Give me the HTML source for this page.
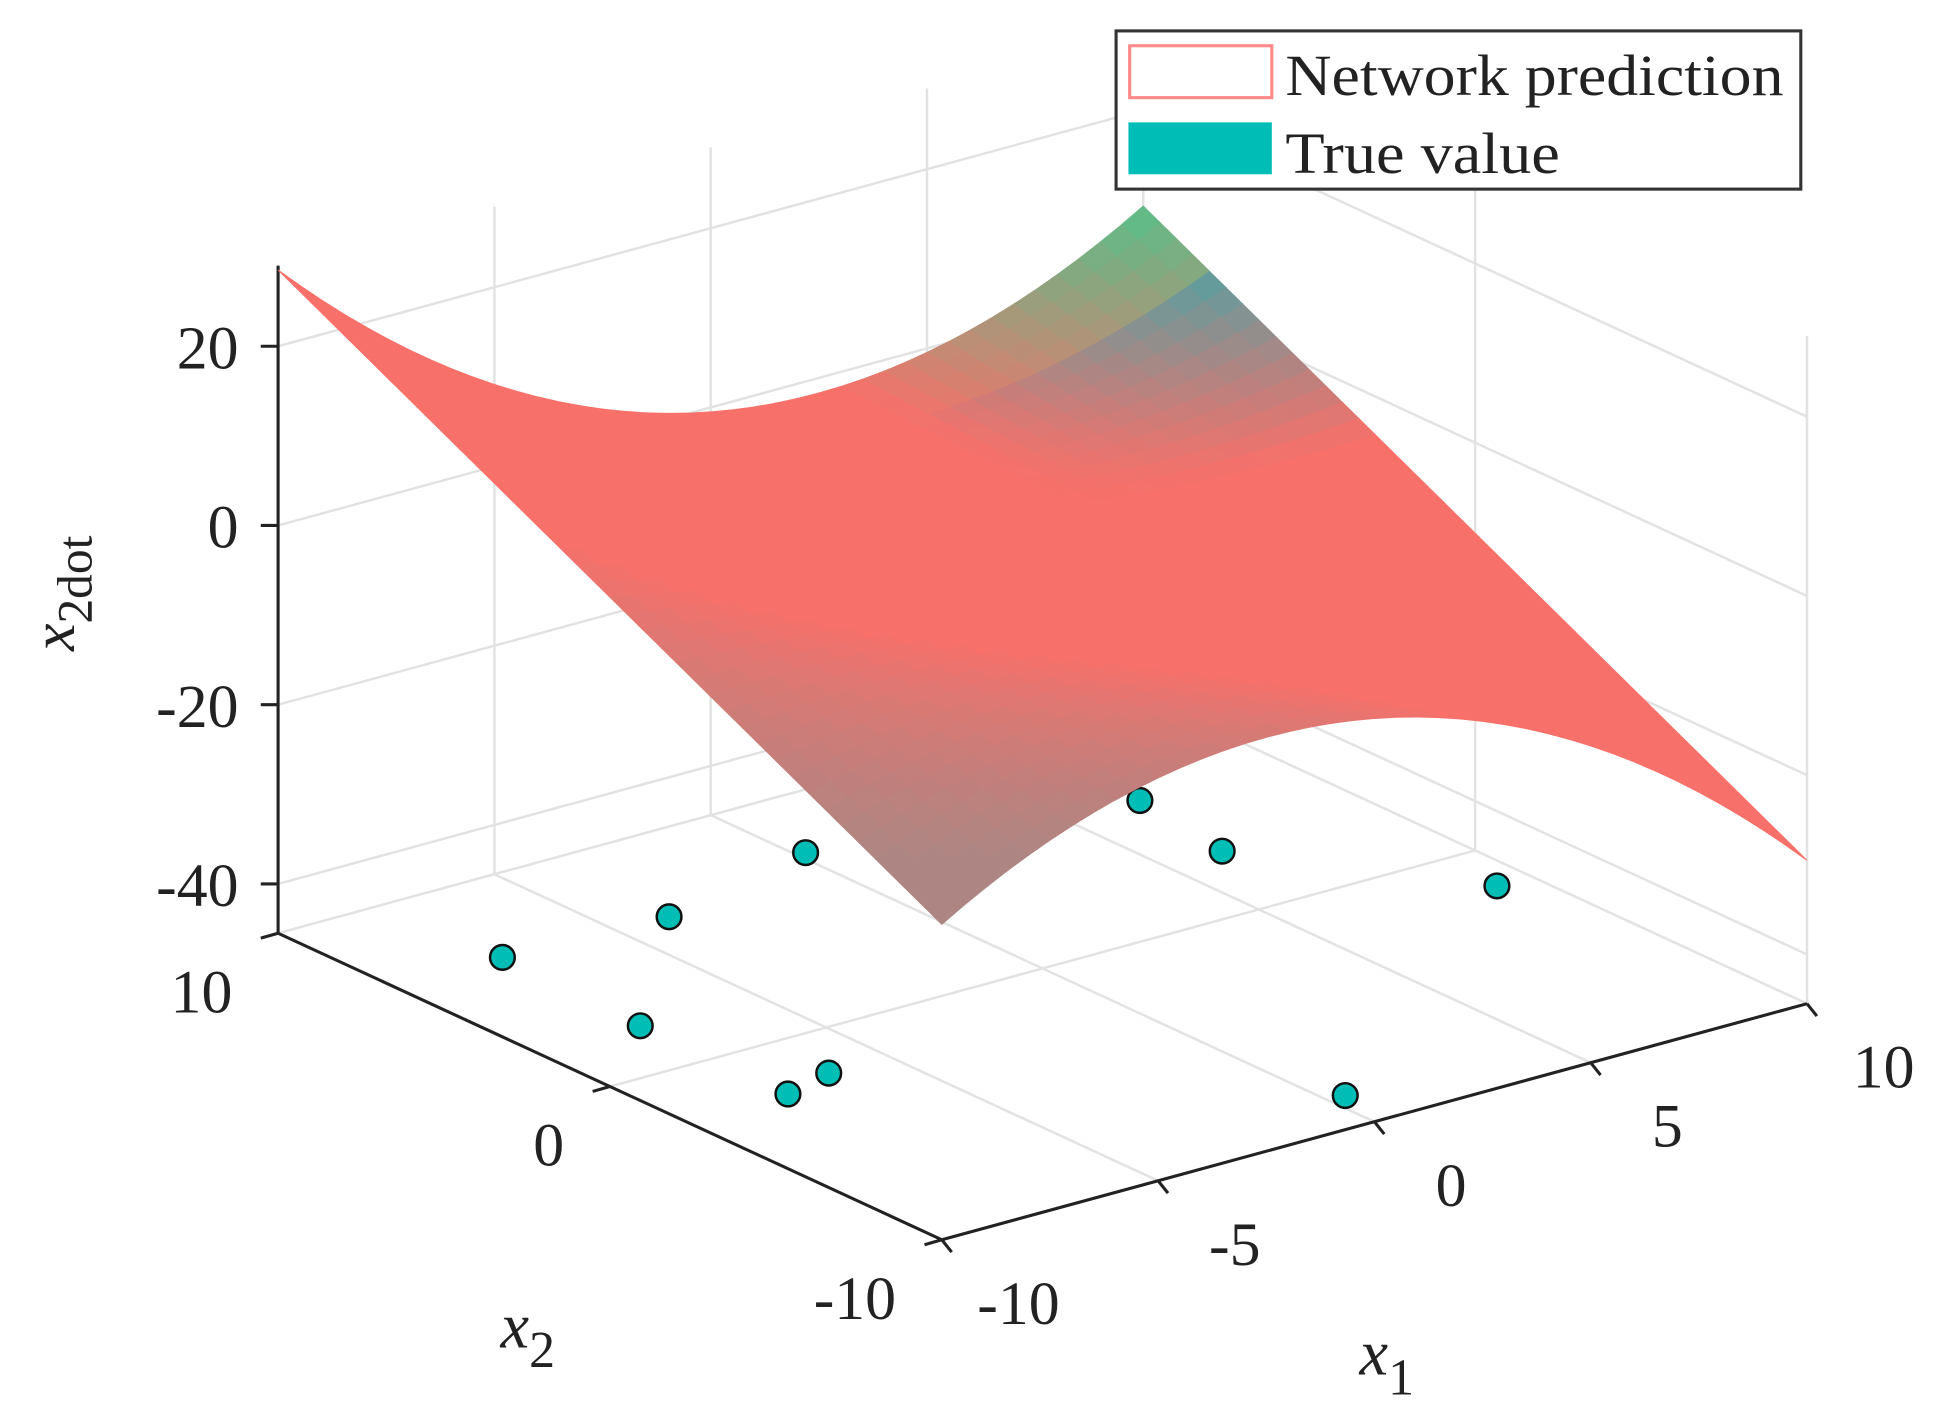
<!DOCTYPE html>
<html><head><meta charset="utf-8"><style>
html,body{margin:0;padding:0;background:#fff;}
svg{display:block;}
text{font-family:"Liberation Serif",serif;fill:#222;}
</style></head><body>
<svg id="chart" width="1938" height="1419" viewBox="0 0 1568 1148" preserveAspectRatio="none" xmlns="http://www.w3.org/2000/svg">
<g id="grid"></g>
<g id="axes"></g>
<g id="points"></g>
<g id="surf"></g>
<g id="labels">
<text x="60" y="480" font-size="50" font-style="italic" transform="rotate(-90 60 480)" text-anchor="middle">x<tspan font-style="normal" font-size="40" dy="14">2dot</tspan></text>
<text x="405" y="1090" font-size="52" font-style="italic">x<tspan font-style="normal" font-size="42" dy="16">2</tspan></text>
<text x="1100" y="1112" font-size="52" font-style="italic">x<tspan font-style="normal" font-size="42" dy="16">1</tspan></text>
</g>
<g>
<rect x="903" y="25" width="554" height="128" fill="#fff" stroke="#333" stroke-width="2.5"/>
<rect x="914" y="37" width="115" height="42" fill="#fff" stroke="#f88" stroke-width="2.5"/>
<text x="1040" y="77" font-size="47" textLength="403" lengthAdjust="spacingAndGlyphs">Network prediction</text>
<rect x="913" y="99" width="116" height="42" fill="#00bdb5"/>
<text x="1040" y="140" font-size="47" textLength="222" lengthAdjust="spacingAndGlyphs">True value</text>
</g>
</svg>
<script>
// data
const zTicks=[20,0,-20,-40];
const x1Ticks=[-10,-5,0,5,10];
const x2Ticks=[-10,0,10];
const coefConst=[-0.5];
const coefX1=[-0.96];
const coefX1sqX2=[0.0194];
const ptsX1=[-7.5,-7.65,-3.8,0.2,-7.65,-6.4,6.7,6.3,9.2,0.4];
const ptsX2=[6.5,2.15,6.3,7.4,-2.3,-1.9,5.8,2.8,-1.7,-8.6];

const ZMIN=-45.5, ZMAX=29;
const NS="http://www.w3.org/2000/svg";
function P(x1,x2,z){
  return [225+(x1+10)*35+(10-x2)*26.85, 755-(x1+10)*9.55+(10-x2)*12.4-(z-ZMIN)*7.25];
}
function f(x1,x2){return coefConst[0]+coefX1[0]*x1+coefX1sqX2[0]*x1*x1*x2;}
function mk(tag,attrs,parent){const e=document.createElementNS(NS,tag);for(const k in attrs)e.setAttribute(k,attrs[k]);parent.appendChild(e);return e;}
function line(a,b,parent,col,w){return mk('line',{x1:a[0],y1:a[1],x2:b[0],y2:b[1],stroke:col,'stroke-width':w},parent);}
const grid=document.getElementById('grid'),axes=document.getElementById('axes');
const GC='#e2e2e2';
x1Ticks.filter(v=>v>-10).forEach(v=>{
  let l=line(P(v,10,ZMIN),P(v,10,ZMAX),grid,GC,2);
  
  
  let m=line(P(v,10,ZMIN),P(v,-10,ZMIN),grid,GC,2);
  
  
});
x2Ticks.filter(v=>v<10).forEach(v=>{
  let l=line(P(10,v,ZMIN),P(10,v,ZMAX),grid,GC,2);
  
  
});
x2Ticks.filter(v=>v>-10).forEach(v=>{
  let l=line(P(-10,v,ZMIN),P(10,v,ZMIN),grid,GC,2);
  
  
});
zTicks.forEach(z=>{
  let l=mk('polyline',{points:[P(-10,10,z),P(10,10,z),P(10,-10,z)].map(p=>p.join(',')).join(' '),fill:'none',stroke:GC,'stroke-width':2},grid);
  
  
});
// axes
let za=line(P(-10,10,ZMIN),P(-10,10,ZMAX),axes,'#222',2.5);


let x2a=line(P(-10,10,ZMIN),P(-10,-10,ZMIN),axes,'#222',2.5);


let x1a=line(P(-10,-10,ZMIN),P(10,-10,ZMIN),axes,'#222',2.5);


zTicks.forEach(z=>{
  const p=P(-10,10,z);
  line(p,[p[0]-14,p[1]],axes,'#222',2.5);
  const t=mk('text',{x:p[0]-32,y:p[1]+18,'font-size':50,'text-anchor':'end'},axes);
  t.textContent=z;
  
  
});
x2Ticks.forEach(v=>{
  const p=P(-10,v,ZMIN);
  line(p,[p[0]-14,p[1]+4],axes,'#222',2.5);
  const t=mk('text',{x:p[0]-37,y:p[1]+64,'font-size':50,'text-anchor':'end'},axes);
  t.textContent=v;
  
  
});
x1Ticks.forEach(v=>{
  const p=P(v,-10,ZMIN);
  line(p,[p[0]+8,p[1]+10],axes,'#222',2.5);
  const t=mk('text',{x:p[0]+62,y:p[1]+68,'font-size':50,'text-anchor':'middle'},axes);
  t.textContent=v;
  
  
});
// points
const pg=document.getElementById('points');
ptsX1.forEach((x1,i)=>{
  const p=P(x1,ptsX2[i],ZMIN);
  const c=mk('circle',{cx:p[0],cy:p[1],r:10,fill:'#00bdb5',stroke:'#111','stroke-width':2},pg);
  
  
});
// surface
const sg=document.getElementById('surf');
const N=40,cells=[];
for(let i=0;i<N;i++)for(let j=0;j<N;j++){
  const a=-10+20*i/N,b=-10+20*(i+1)/N,c=-10+20*j/N,d=-10+20*(j+1)/N;
  cells.push([a,b,c,d]);
}
cells.sort((p,q)=>(q[0]+q[2])-(p[0]+p[2]));
function clamp(v){return Math.max(0,Math.min(1,v));}
cells.forEach(([a,b,c,d])=>{
  const pts=[P(a,c,f(a,c)),P(b,c,f(b,c)),P(b,d,f(b,d)),P(a,d,f(a,d))];
  const mx=(a+b)/2,my=(c+d)/2;
  let w=clamp((mx-3)/7)*clamp((my-3)/7)*0.9;
  w=Math.max(w,clamp((-mx-my-8)/10)*0.3);
  const r=Math.round(247*(1-w)+(my>8?70:0)*w),g=Math.round(112*(1-w)+(my>8?200:185)*w),bl=Math.round(106*(1-w)+(my>8?140:190)*w);
  const col=`rgb(${r},${g},${bl})`;
  const q=mk('polygon',{points:pts.map(p=>p.join(',')).join(' '),fill:col,stroke:col,'stroke-width':0.8},sg);
  
  
});
</script>
</body></html>
